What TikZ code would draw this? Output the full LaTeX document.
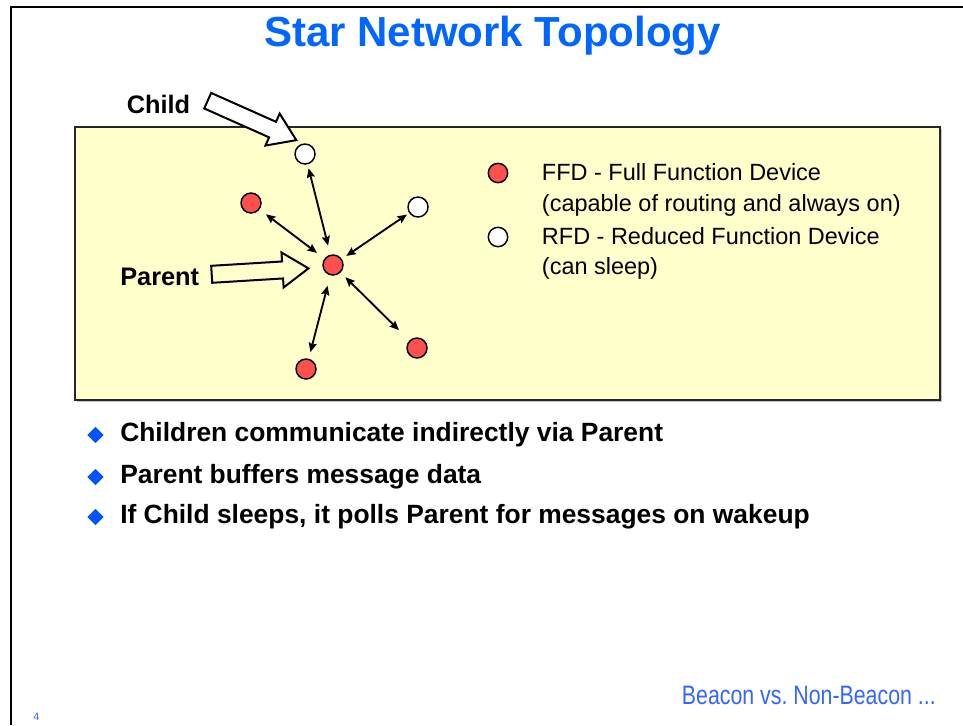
\documentclass[tikz,border=0pt]{standalone}
\usepackage{fontspec}
\setmainfont{Liberation Sans}
\newfontfamily\narrowsans[FakeStretch=0.8]{Liberation Sans}
\usetikzlibrary{arrows.meta,shapes.geometric}
\definecolor{titleblue}{HTML}{0066FF}
\definecolor{bulletblue}{HTML}{0055FF}
\definecolor{footblue}{HTML}{3366FF}
\definecolor{panel}{HTML}{FFFFCC}
\definecolor{ffdred}{HTML}{FF5050}
\begin{document}
\begin{tikzpicture}[x=0.75pt,y=-0.75pt,
  txt/.style={inner sep=0pt,anchor=base west},
  device/.style={circle,draw=black,line width=1.1pt,minimum size=15pt,inner sep=0pt},
  ffd/.style={device,fill=ffdred},
  rfd/.style={device,fill=white},
  legenddot/.style={device,minimum size=14.5pt},
  link/.style={{Stealth[length=7pt,width=6pt,inset=1pt]}-{Stealth[length=7pt,width=6pt,inset=1pt]},line width=1.4pt},
  bullet/.style={diamond,fill=bulletblue,inner sep=0pt,minimum size=12.5pt},
  hollow arrow/.pic={\path[pic actions] (0,-8.5) -- (71,-8.5) -- (71,-17.5) -- (97,0)
     -- (71,17.5) -- (71,8.5) -- (0,8.5) -- cycle;}
]
\useasboundingbox (0,0) rectangle (963,725);

% page frame
\draw[line width=1.5pt] (11,725) -- (11,7) -- (963,7);

% title
\node[inner sep=0pt,anchor=base,font=\bfseries\fontsize{31.5}{36}\selectfont,text=titleblue]
  (title) at (492.5,46) {Star Network Topology};

% yellow panel with a faint shadow
\fill[gray!45] (77,129) rectangle (942,402);
\draw[fill=panel,draw=black!85,line width=1.1pt] (75,127) rectangle (940,400);

% devices
\node[rfd] (child) at (305,154) {};
\node[ffd] (ul)    at (251,203) {};
\node[rfd] (ur)    at (418,207) {};
\node[ffd] (par)   at (333,265) {};
\node[ffd] (br)    at (417,348) {};
\node[ffd] (bot)   at (306,369) {};

% links to the parent
\draw[link,shorten <=3pt,shorten >=7pt] (child) -- (par);
\draw[link,shorten <=6pt,shorten >=7pt] (ul) -- (par);
\draw[link,shorten <=2pt,shorten >=4pt] (ur) -- (par);
\draw[link,shorten <=5pt,shorten >=11pt] (par) -- (br);
\draw[link,shorten <=8pt,shorten >=5pt] (par) -- (bot);

% callout arrows and labels
\pic[rotate=-24,draw=black,fill=white,line width=1.5pt] at (207.7,100.7) {hollow arrow};
\pic[rotate=3.5,draw=black,fill=panel,line width=1.5pt] at (211.7,274.3) {hollow arrow};
\node[txt,font=\bfseries\fontsize{19}{22}\selectfont] (childlbl) at (126.5,113) {Child};
\node[txt,font=\bfseries\fontsize{19}{22}\selectfont] (parlbl) at (120,285) {Parent};

% legend
\node[legenddot,fill=ffdred] (legffd) at (498,173) {};
\node[legenddot,fill=white]  (legrfd) at (498,237) {};
\begin{scope}[every node/.style={txt,font=\fontsize{17.6}{21}\selectfont}]
\node (l1) at (541.7,180) {FFD - Full Function Device};
\node (l2) at (541.7,211) {(capable of routing and always on)};
\node (l3) at (541.7,244) {RFD - Reduced Function Device};
\node (l4) at (541.7,274) {(can sleep)};
\end{scope}

% bullet list
\node[bullet] (b1) at (95.5,435) {};
\node[bullet] (b2) at (95.5,477) {};
\node[bullet] (b3) at (95.5,517) {};
\begin{scope}[every node/.style={txt,font=\bfseries\fontsize{19.8}{24}\selectfont}]
\node (t1) at (120,441) {Children communicate indirectly via Parent};
\node (t2) at (120,483) {Parent buffers message data};
\node (t3) at (120,523) {If Child sleeps, it polls Parent for messages on wakeup};
\end{scope}

% footer
\node[inner sep=0pt,anchor=base east,text=footblue,font=\narrowsans\fontsize{20}{22}\selectfont]
  (next) at (936,704) {Beacon vs.\ Non-Beacon ...};
\node[txt,text=footblue,font=\fontsize{8}{9}\selectfont] (pg) at (33,720) {4};
\end{tikzpicture}
\end{document}
